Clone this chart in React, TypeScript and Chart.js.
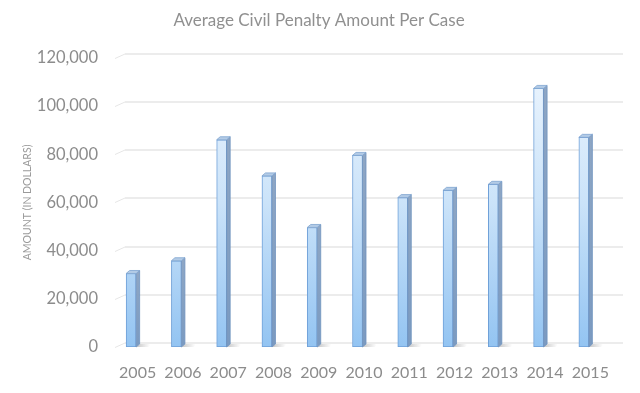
import React, { useEffect, useRef } from "react";
import { Chart, registerables } from "chart.js";

Chart.register(...registerables);

const chartTitle = "Average Civil Penalty Amount Per Case";
const yAxisTitle = "AMOUNT (IN DOLLARS)";
const years = ["2005", "2006", "2007", "2008", "2009", "2010", "2011", "2012", "2013", "2014", "2015"];
const penalties = [30500, 35800, 86000, 71000, 49600, 79500, 62000, 65000, 67500, 107300, 87000];
const yTickValues = [0, 20000, 40000, 60000, 80000, 100000, 120000];

const FONT = "Lato, 'Open Sans', sans-serif";
const TEXT_GREY = "#8c8c8c";

const wallPlugin = {
  id: "wall3d",
  beforeDatasetsDraw(chart: any) {
    const { ctx, chartArea, scales } = chart;
    const y = scales.y;
    const front = chartArea.left + 6.5;
    const dx = 10;
    const dy = 4.5;
    ctx.save();
    ctx.lineWidth = 1;
    for (const v of yTickValues) {
      const py = Math.round(y.getPixelForValue(v)) + 0.5;
      ctx.strokeStyle = "#d9d9d9";
      ctx.beginPath();
      ctx.moveTo(front + dx, py - dy);
      ctx.lineTo(chartArea.right + 6.5 + dx, py - dy);
      ctx.stroke();
      ctx.strokeStyle = "#e6e6e6";
      ctx.beginPath();
      ctx.moveTo(front, py);
      ctx.lineTo(front + dx, py - dy);
      ctx.stroke();
    }
    ctx.restore();
  },
  afterDatasetsDraw(chart: any) {
    const { ctx } = chart;
    const meta = chart.getDatasetMeta(0);
    const sx = 3.5;
    const sy = 3;
    ctx.save();
    meta.data.forEach((bar: any) => {
      const { x, y, base, width } = bar.getProps(["x", "y", "base", "width"], true);
      const l = x - width / 2;
      const r = x + width / 2;
      // floor shadow
      const sg = ctx.createLinearGradient(r, 0, r + 14, 0);
      sg.addColorStop(0, "rgba(90,90,90,0.35)");
      sg.addColorStop(1, "rgba(90,90,90,0)");
      ctx.fillStyle = sg;
      ctx.beginPath();
      ctx.moveTo(r, base);
      ctx.lineTo(r + sx, base - sy);
      ctx.lineTo(r + 16, base - sy);
      ctx.lineTo(r + 12, base);
      ctx.closePath();
      ctx.fill();
      // side face
      const g = ctx.createLinearGradient(0, y, 0, base);
      g.addColorStop(0, "#8ea6c4");
      g.addColorStop(1, "#7b9ac0");
      ctx.fillStyle = g;
      ctx.beginPath();
      ctx.moveTo(r, y);
      ctx.lineTo(r + sx, y - sy);
      ctx.lineTo(r + sx, base - sy);
      ctx.lineTo(r, base);
      ctx.closePath();
      ctx.fill();
      ctx.strokeStyle = "#6f93bf";
      ctx.lineWidth = 0.8;
      ctx.stroke();
      // top cap
      ctx.fillStyle = "#b3cbe6";
      ctx.beginPath();
      ctx.moveTo(l, y);
      ctx.lineTo(l + sx, y - sy);
      ctx.lineTo(r + sx, y - sy);
      ctx.lineTo(r, y);
      ctx.closePath();
      ctx.fill();
      ctx.strokeStyle = "#7fa4d0";
      ctx.stroke();
    });
    ctx.restore();
  },
  afterDraw(chart: any) {
    const { ctx } = chart;
    ctx.save();
    ctx.fillStyle = "#909090";
    ctx.font = `normal 17px ${FONT}`;
    ctx.textAlign = "center";
    ctx.textBaseline = "middle";
    ctx.fillText(chartTitle, 319, 21);
    ctx.restore();
  },
};

export default function App() {
  const canvasRef = useRef<HTMLCanvasElement | null>(null);

  useEffect(() => {
    const canvas = canvasRef.current;
    if (!canvas) return;
    const chart = new Chart(canvas, {
      type: "bar",
      data: {
        labels: years,
        datasets: [
          {
            label: "Average civil penalty",
            data: penalties,
            barThickness: 10,
            borderWidth: 1,
            borderSkipped: false,
            borderColor: "#6fa0d8",
            backgroundColor: (c: any) => {
              const area = c.chart.chartArea;
              if (!area) return "#bcdcf8";
              const g = c.chart.ctx.createLinearGradient(0, area.top, 0, area.bottom);
              g.addColorStop(0, "#eef6fe");
              g.addColorStop(0.5, "#cbe3f9");
              g.addColorStop(1, "#93c4f2");
              return g;
            },
          },
        ],
      },
      options: {
        responsive: true,
        maintainAspectRatio: false,
        animation: false,
        layout: { padding: { left: 0, right: 33.5, top: 57.8, bottom: 0 } },
        plugins: {
          legend: { display: false },
          tooltip: { enabled: false },
          title: { display: false },
        },
        scales: {
          x: {
            grid: { display: false, drawTicks: false },
            border: { display: false },
            ticks: {
              color: TEXT_GREY,
              font: { family: FONT, size: 16, lineHeight: 1.2 },
              padding: 16,
              labelOffset: 6.5,
              maxRotation: 0,
              autoSkip: false,
            },
            afterFit: (s: any) => {
              s.height = 46;
            },
          },
          y: {
            min: 0,
            max: 120000,
            grid: { display: false, drawTicks: false },
            border: { display: false },
            ticks: {
              stepSize: 20000,
              color: TEXT_GREY,
              font: { family: FONT, size: 16.5, lineHeight: 1.2 },
              padding: 10.5,
              callback: (v: any) => Number(v).toLocaleString("en-US"),
            },
            title: {
              display: true,
              text: yAxisTitle,
              color: "#9a9a9a",
              font: { family: FONT, size: 10.5, lineHeight: 1.2 },
              padding: { top: 21, bottom: 0 },
            },
            afterFit: (s: any) => {
              s.width = 108.5;
            },
          },
        },
      },
      plugins: [wallPlugin],
    });
    return () => chart.destroy();
  }, []);

  return (
    <div style={{ position: "fixed", left: 0, top: 0, width: 640, height: 393, background: "#ffffff" }}>
      <canvas ref={canvasRef} />
    </div>
  );
}
